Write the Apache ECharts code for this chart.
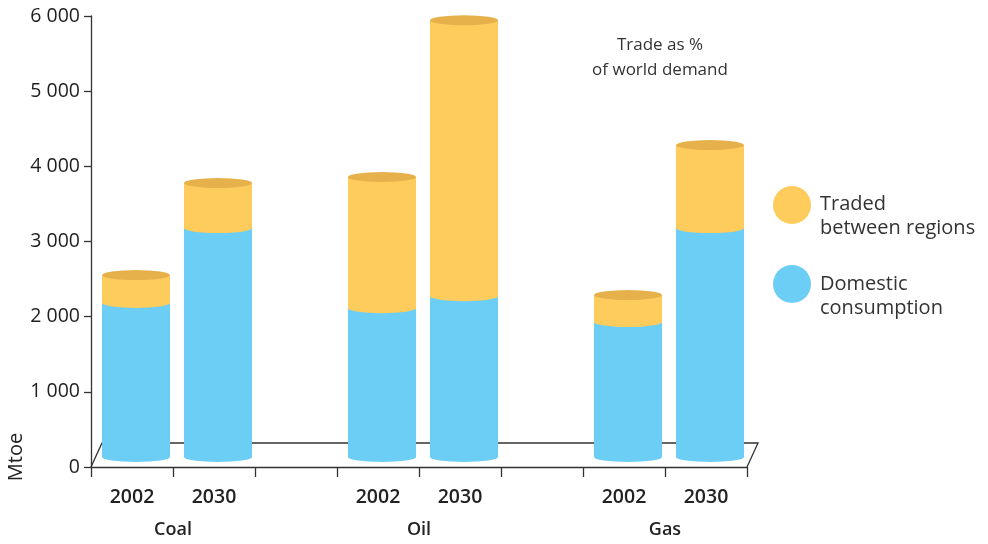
<!DOCTYPE html>
<html><head><meta charset="utf-8">
<script src="https://cdn.jsdelivr.net/npm/echarts@6/dist/echarts.min.js"></script>
<style>html,body{margin:0;padding:0;background:#fff}#c{width:988px;height:544px}</style>
</head><body><div id="c"></div>
<script>
// ---- data ----
const categories = ['2002', '2030', '', '2002', '2030', '', '2002', '2030'];
const groups = ['Coal', 'Oil', 'Gas'];
const groupPositions = [1, 4, 7];
const barSlots = [0, 1, 3, 4, 6, 7];           // Coal 2002, Coal 2030, Oil 2002, Oil 2030, Gas 2002, Gas 2030
const domestic = [2050, 3045, 1980, 2140, 1795, 3045];
const traded   = [370, 600, 1745, 3670, 360, 1105];
const yMin = 0, yMax = 6000, yStep = 1000;
const seriesNames = ['Domestic consumption', 'Traded between regions'];

// ---- style ----
const BLUE = '#6ccef5', YELLOW = '#fecb5d', TOPC = '#e6b14b', AXIS = '#333';
const DX = 4, DY = 10, RY = 5;

const chart = echarts.init(document.getElementById('c'), null, {renderer: 'canvas'});

function renderCyl(params, api) {
  const idx = api.value(0), lo = api.value(1), hi = api.value(2), isTop = api.value(3);
  const b = api.coord([idx, lo]);
  const t = api.coord([idx, hi]);
  const w = api.size([1, 0])[0] * 0.83;
  const cx = b[0] + DX, y0 = b[1] - DY, y1 = t[1] - DY;
  const rx = w / 2, x0 = cx - rx, x1 = cx + rx;
  const color = api.visual('color');
  const children = [{
    type: 'path',
    shape: {pathData: `M${x0} ${y1} L${x0} ${y0} A${rx} ${RY} 0 0 0 ${x1} ${y0} L${x1} ${y1} Z`},
    style: {fill: color}
  }];
  if (isTop) {
    children.push({
      type: 'path',
      shape: {pathData: `M${x0} ${y1} A${rx} ${RY} 0 1 0 ${x1} ${y1} A${rx} ${RY} 0 1 0 ${x0} ${y1} Z`},
      style: {fill: TOPC}
    });
  }
  return {type: 'group', children};
}

const domData = barSlots.map((s, i) => [s, 0, domestic[i], 0]);
const trdData = barSlots.map((s, i) => [s, domestic[i], domestic[i] + traded[i], 1]);

const fmt = v => String(v).replace(/\B(?=(\d{3})+(?!\d))/g, ' ');

chart.setOption({
  animation: false,
  grid: {left: 91, right: 241, top: 16, bottom: 77, containLabel: false},
  xAxis: [{
    type: 'category', data: categories, boundaryGap: true,
    axisLine: {show: true, lineStyle: {color: AXIS, width: 1.3}},
    axisTick: {show: true, length: 10, lineStyle: {color: AXIS, width: 1.3}},
    axisLabel: {margin: 20, color: '#222', fontSize: 19.5, fontWeight: 600, fontFamily: 'Open Sans', interval: 0},
    splitLine: {show: false}
  }, {
    type: 'value', min: 0, max: categories.length, position: 'bottom',
    axisLine: {show: false}, axisTick: {show: false}, splitLine: {show: false},
    axisLabel: {customValues: groupPositions, margin: 54, color: '#222', fontSize: 18, fontWeight: 600, fontFamily: 'Open Sans',
      formatter: v => groups[groupPositions.indexOf(v)] || ''}
  }],
  yAxis: {
    type: 'value', min: yMin, max: yMax, interval: yStep,
    axisLine: {show: true, lineStyle: {color: AXIS, width: 1.3}},
    axisTick: {show: true, length: 7, lineStyle: {color: AXIS, width: 1.3}},
    axisLabel: {margin: 11, color: '#1e1e1e', fontSize: 19.5, fontWeight: 500, fontFamily: 'Open Sans', formatter: fmt},
    splitLine: {show: false}
  },
  series: [{
    name: seriesNames[0], type: 'custom', xAxisIndex: 0, yAxisIndex: 0,
    itemStyle: {color: BLUE}, renderItem: renderCyl, data: domData, z: 3,
    encode: {x: 0, y: [1, 2]}
  }, {
    name: seriesNames[1], type: 'custom', xAxisIndex: 0, yAxisIndex: 0,
    itemStyle: {color: YELLOW}, renderItem: renderCyl, data: trdData, z: 4,
    encode: {x: 0, y: [1, 2]}
  }]
});

const c0 = chart.convertToPixel({xAxisIndex: 0, yAxisIndex: 0}, [0, 0]);
const c1 = chart.convertToPixel({xAxisIndex: 0, yAxisIndex: 0}, [1, 0]);
const cN = chart.convertToPixel({xAxisIndex: 0, yAxisIndex: 0}, [categories.length - 1, 0]);
const band = c1[0] - c0[0];
const pL = [c0[0] - band / 2, c0[1]];
const pR = [cN[0] + band / 2, cN[1]];
const FDX = 11, FDY = 24;

chart.setOption({
  graphic: [
    {type: 'polyline', z: 1, silent: true,
      shape: {points: [[pL[0], pL[1]], [pL[0] + FDX, pL[1] - FDY], [pR[0] + FDX, pR[1] - FDY], [pR[0], pR[1]]]},
      style: {stroke: AXIS, lineWidth: 1.3, fill: null}},
    {type: 'text', x: 16, y: 457, rotation: Math.PI / 2, z: 5,
      style: {text: 'Mtoe', fontSize: 20, fontFamily: 'Open Sans', fill: '#222', align: 'center', verticalAlign: 'middle'}},
    {type: 'text', x: 660, y: 58, z: 5,
      style: {text: 'Trade as %\nof world demand', fontSize: 17, lineHeight: 25, fontFamily: 'Open Sans', fill: '#333', align: 'center', verticalAlign: 'middle'}},
    {type: 'circle', shape: {cx: 792, cy: 205, r: 19}, style: {fill: YELLOW}, z: 5},
    {type: 'text', x: 820, y: 216, z: 5,
      style: {text: 'Traded\nbetween regions', fontSize: 20, lineHeight: 24, fontFamily: 'Open Sans', fill: '#333', verticalAlign: 'middle'}},
    {type: 'circle', shape: {cx: 792, cy: 284, r: 19}, style: {fill: BLUE}, z: 5},
    {type: 'text', x: 820, y: 296, z: 5,
      style: {text: 'Domestic\nconsumption', fontSize: 20, lineHeight: 24, fontFamily: 'Open Sans', fill: '#333', verticalAlign: 'middle'}}
  ]
});
</script></body></html>
